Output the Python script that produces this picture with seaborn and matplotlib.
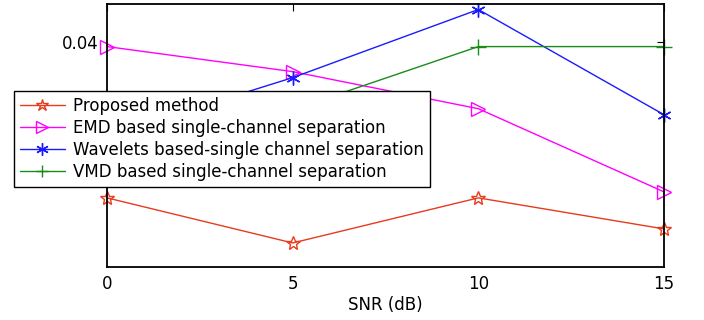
import matplotlib
matplotlib.use('Agg')
import seaborn as sns
from matplotlib import pyplot as plt

snr = [0, 5, 10, 15]
proposed = [0.03376, 0.03196, 0.03376, 0.03252]
emd = [0.0398, 0.0388, 0.03732, 0.0340]
wavelets = [0.03624, 0.03856, 0.04128, 0.03708]
vmd = [0.03488, 0.03728, 0.0398, 0.0398]

labels = ['Proposed method',
          'EMD based single-channel separation',
          'Wavelets based-single channel separation',
          'VMD based single-channel separation']

sns.set_theme(style='white')
plt.rcParams['font.family'] = ['DejaVu Sans']
plt.rcParams['font.size'] = 12
plt.rcParams['text.color'] = 'black'
plt.rcParams['axes.labelcolor'] = 'black'

fig = plt.figure(figsize=(7.04, 3.2), dpi=100)
ax = fig.add_axes([107 / 704, 1 - 267 / 320, (664 - 107) / 704, (267 - 4) / 320])

sns.lineplot(x=snr, y=proposed, ax=ax, color='#e83a1e', linewidth=1, marker='*',
             markersize=10, markerfacecolor='none', markeredgecolor='#e83a1e',
             markeredgewidth=1, label=labels[0], clip_on=False)
sns.lineplot(x=snr, y=emd, ax=ax, color='#ff00ff', linewidth=1, marker='>',
             markersize=10, markerfacecolor='none', markeredgecolor='#ff00ff',
             markeredgewidth=1, label=labels[1], clip_on=False)
sns.lineplot(x=snr, y=wavelets, ax=ax, color='#1a1aff', linewidth=1, marker=(6, 2, 0),
             markersize=10, markeredgecolor='#1a1aff', markeredgewidth=1,
             label=labels[2], clip_on=False)
sns.lineplot(x=snr, y=vmd, ax=ax, color='#1a8c1a', linewidth=1, marker='+',
             markersize=11, markeredgecolor='#1a8c1a', markeredgewidth=1,
             label=labels[3], clip_on=False)

ax.set_xlim(0, 15)
ax.set_ylim(0.031, 0.0415)
ax.set_xticks([0, 5, 10, 15])
ax.set_yticks([0.04])
ax.set_yticklabels(['0.04'])
ax.set_xlabel('SNR (dB)', fontsize=12, labelpad=2)
ax.set_ylabel('')
ax.tick_params(direction='in', length=5, width=0.8, top=True, right=True,
               labelsize=12, colors='black', pad=6)
for s in ax.spines.values():
    s.set_visible(True)
    s.set_color('black')
    s.set_linewidth(1.3)

leg = ax.legend(loc='upper left', bbox_to_anchor=(14 / 704, 1 - 91 / 320),
                bbox_transform=fig.transFigure, frameon=True, fancybox=False,
                framealpha=1, edgecolor='black', fontsize=12, handlelength=2.7,
                handletextpad=0.5, labelspacing=0.25, borderpad=0.35,
                borderaxespad=0)
leg.get_frame().set_linewidth(1)
for h in leg.legend_handles:
    h.set_markersize(9)

fig.savefig('out.png', dpi=100)
